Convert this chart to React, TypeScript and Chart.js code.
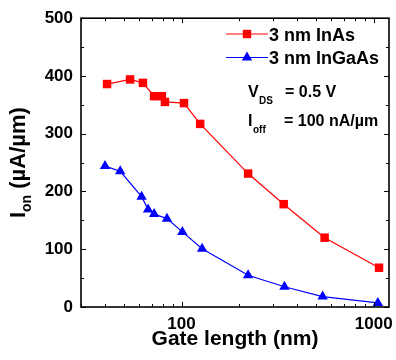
import React, { useEffect, useRef } from "react";
import { Chart, registerables } from "chart.js";

Chart.register(...registerables);

// Gate length (nm) and Ion (uA/um) for each series
const inasLength = [41, 54, 63, 72, 79, 82, 103, 125, 222, 340, 555, 1065];
const inasIon = [386, 394, 388, 365, 365, 355, 353, 317, 231, 178, 120, 68];
const ingaasLength = [40, 48, 62, 67, 72, 84, 101, 128, 222, 343, 542, 1050];
const ingaasIon = [244, 235, 191, 169, 161, 153, 130, 101, 55, 35, 18, 7];

const seriesNames = ["3 nm InAs", "3 nm InGaAs"];
const xTickLabels = [100, 1000];
const xMinorTicks = [30, 40, 50, 60, 70, 80, 90, 100, 200, 300, 400, 500, 600, 700, 800, 900, 1000];
const yMajorTicks = [0, 100, 200, 300, 400, 500];
const yMinorTicks = [50, 150, 250, 350, 450];

const RED = "#ff0000";
const BLUE = "#0000ff";
const FONT = "'Liberation Sans', Arial, sans-serif";

const decorPlugin = {
  id: "decor",
  afterDraw(chart: any) {
    const { ctx, chartArea: a } = chart;
    const xs = chart.scales.x;
    const ys = chart.scales.y;
    ctx.save();
    ctx.strokeStyle = "#000";
    ctx.lineWidth = 1;
    const line = (x1: number, y1: number, x2: number, y2: number) => {
      ctx.beginPath();
      ctx.moveTo(x1, y1);
      ctx.lineTo(x2, y2);
      ctx.stroke();
    };
    xMinorTicks.forEach((v) => {
      const px = Math.round(xs.getPixelForValue(v)) + 0.5;
      const len = xTickLabels.includes(v) ? 5 : 3;
      line(px, a.bottom, px, a.bottom - len);
      line(px, a.top, px, a.top + len);
    });
    yMajorTicks.forEach((v) => {
      const py = Math.round(ys.getPixelForValue(v)) + 0.5;
      line(a.left, py, a.left + 5, py);
      line(a.right, py, a.right - 5, py);
    });
    yMinorTicks.forEach((v) => {
      const py = Math.round(ys.getPixelForValue(v)) + 0.5;
      line(a.left, py, a.left + 3, py);
      line(a.right, py, a.right - 3, py);
    });
    ctx.lineWidth = 1.6;
    ctx.strokeRect(a.left, a.top, a.right - a.left, a.bottom - a.top);

    // Legend
    ctx.fillStyle = "#000";
    const legendRows = [
      { color: RED, shape: "rect", y: 34, name: seriesNames[0] },
      { color: BLUE, shape: "tri", y: 57.5, name: seriesNames[1] },
    ];
    legendRows.forEach((r) => {
      ctx.strokeStyle = r.color;
      ctx.fillStyle = r.color;
      ctx.lineWidth = 1.2;
      line(226, r.y, 268, r.y);
      const cx = 247;
      if (r.shape === "rect") {
        ctx.fillRect(cx - 4.2, r.y - 4.2, 8.4, 8.4);
      } else {
        ctx.beginPath();
        ctx.moveTo(cx, r.y - 6);
        ctx.lineTo(cx + 5.2, r.y + 3);
        ctx.lineTo(cx - 5.2, r.y + 3);
        ctx.closePath();
        ctx.fill();
      }
      ctx.fillStyle = "#000";
      ctx.font = `bold 18px ${FONT}`;
      ctx.textAlign = "left";
      ctx.textBaseline = "alphabetic";
      ctx.fillText(r.name, 269, r.y + 6.5);
    });

    // Annotations
    ctx.fillStyle = "#000";
    ctx.textAlign = "left";
    ctx.font = `bold 16px ${FONT}`;
    ctx.fillText("V", 248, 97);
    ctx.font = `bold 10px ${FONT}`;
    ctx.fillText("DS", 259, 104);
    ctx.font = `bold 16px ${FONT}`;
    ctx.fillText("= 0.5 V", 285, 97);
    ctx.fillText("I", 248, 126);
    ctx.font = `bold 10px ${FONT}`;
    ctx.fillText("off", 253, 133);
    ctx.font = `bold 16px ${FONT}`;
    ctx.fillText("= 100 nA/\u00b5m", 284, 126);

    // X title
    ctx.font = `bold 21px ${FONT}`;
    ctx.textAlign = "center";
    ctx.fillText("Gate length (nm)", (a.left + a.right) / 2, 345);

    // Y title
    ctx.save();
    ctx.translate(25, (a.top + a.bottom) / 2);
    ctx.rotate(-Math.PI / 2);
    ctx.textAlign = "left";
    const big = `bold 22px ${FONT}`;
    const small = `bold 14px ${FONT}`;
    ctx.font = big;
    const w1 = ctx.measureText("I").width;
    const w3 = ctx.measureText(" (\u00b5A/\u00b5m)").width;
    ctx.font = small;
    const w2 = ctx.measureText("on").width;
    const total = w1 + w2 + w3;
    let x0 = -total / 2;
    ctx.font = big;
    ctx.fillText("I", x0, 0);
    x0 += w1;
    ctx.font = small;
    ctx.fillText("on", x0, 6);
    x0 += w2;
    ctx.font = big;
    ctx.fillText(" (\u00b5A/\u00b5m)", x0, 0);
    ctx.restore();

    ctx.restore();
  },
};

export default function App() {
  const ref = useRef<HTMLCanvasElement | null>(null);
  useEffect(() => {
    document.body.style.margin = "0";
    if (!ref.current) return;
    const chart = new Chart(ref.current, {
      type: "line",
      data: {
        datasets: [
          {
            label: seriesNames[0],
            data: inasLength.map((x, i) => ({ x, y: inasIon[i] })),
            borderColor: RED,
            backgroundColor: RED,
            borderWidth: 1.2,
            pointStyle: "rect",
            pointRadius: 6,
            pointBorderWidth: 0,
            tension: 0,
            clip: false,
          },
          {
            label: seriesNames[1],
            data: ingaasLength.map((x, i) => ({ x, y: ingaasIon[i] })),
            borderColor: BLUE,
            backgroundColor: BLUE,
            borderWidth: 1.2,
            pointStyle: "triangle",
            pointRadius: 6,
            pointBorderWidth: 0,
            tension: 0,
            clip: false,
          },
        ],
      },
      options: {
        responsive: false,
        animation: false,
        layout: { padding: { top: 17, right: 4, left: 0, bottom: 0 } },
        plugins: { legend: { display: false }, tooltip: { enabled: false } },
        scales: {
          x: {
            type: "logarithmic",
            min: 30,
            max: 1200,
            grid: { display: false, drawTicks: false },
            border: { display: false },
            afterFit: (s: any) => {
              s.height = 53;
            },
            ticks: {
              autoSkip: false,
              maxRotation: 0,
              padding: 7,
              color: "#000",
              font: { family: FONT, size: 17, weight: "bold" },
              callback: (v: any) => (xTickLabels.includes(Number(v)) ? String(v) : ""),
            },
          },
          y: {
            min: 0,
            max: 500,
            grid: { display: false, drawTicks: false },
            border: { display: false },
            afterFit: (s: any) => {
              s.width = 81;
            },
            ticks: {
              stepSize: 100,
              padding: 8,
              color: "#000",
              font: { family: FONT, size: 17, weight: "bold" },
            },
          },
        },
      },
      plugins: [decorPlugin],
    } as any);
    return () => chart.destroy();
  }, []);
  return (
    <div style={{ width: 396, height: 360 }}>
      <canvas ref={ref} width={396} height={360} />
    </div>
  );
}
